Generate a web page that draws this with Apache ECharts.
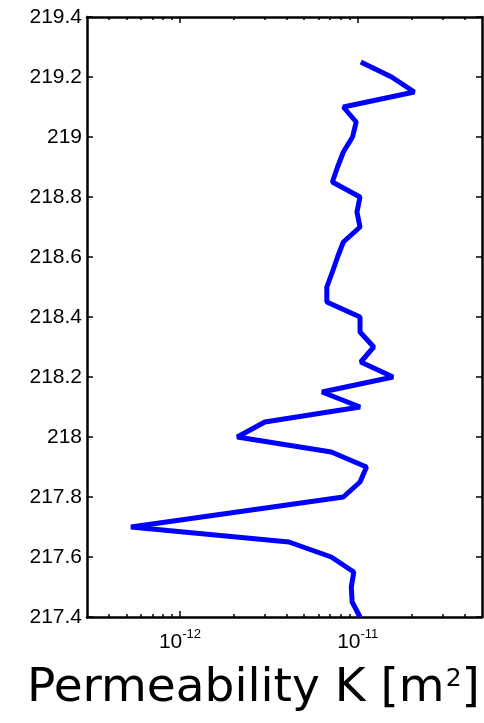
<!DOCTYPE html>
<html>
<head>
<meta charset="utf-8">
<script src="https://cdn.jsdelivr.net/npm/echarts@6/dist/echarts.min.js"></script>
<style>
  html, body { margin: 0; padding: 0; background: #fff; }
  #chart { width: 484px; height: 723px; }
</style>
</head>
<body>
<div id="chart"></div>
<script>
// Depth (y) and permeability K (x, m^2)
const depth = [219.25, 219.2, 219.15, 219.1, 219.05, 219.0, 218.95, 218.9, 218.85, 218.8,
  218.75, 218.7, 218.65, 218.6, 218.55, 218.5, 218.45, 218.4, 218.35, 218.3,
  218.25, 218.2, 218.15, 218.1, 218.05, 218.0, 217.95, 217.9, 217.85, 217.8,
  217.7, 217.65, 217.6, 217.55, 217.5, 217.45, 217.4];
const permeability = [1.04e-11, 1.55e-11, 2.08e-11, 8.3e-12, 9.8e-12, 9.35e-12, 8.3e-12, 7.7e-12, 7.2e-12, 1.03e-11,
  9.9e-12, 1.03e-11, 8.3e-12, 7.7e-12, 7.2e-12, 6.7e-12, 6.7e-12, 1.03e-11, 1.03e-11, 1.23e-11,
  1.04e-11, 1.58e-11, 6.3e-12, 1.03e-11, 3.0e-12, 2.1e-12, 7.1e-12, 1.12e-11, 1.03e-11, 8.3e-12,
  5.3e-13, 4.1e-12, 7.1e-12, 9.5e-12, 9.2e-12, 9.3e-12, 1.03e-11];

const xMajorTicks = [1e-12, 1e-11];
const xMinorTicks = [4e-13, 5e-13, 6e-13, 7e-13, 8e-13, 9e-13,
  2e-12, 3e-12, 4e-12, 5e-12, 6e-12, 7e-12, 8e-12, 9e-12,
  2e-11, 3e-11, 4e-11];
const xMin = 3e-13, xMax = 5e-11;
const yMin = 217.4, yMax = 219.4, yStep = 0.2;
const xTitle = 'Permeability K [m';
const xTitleSup = '2';

const chart = echarts.init(document.getElementById('chart'), null, { renderer: 'canvas' });

const axisLineStyle = { show: true, lineStyle: { color: '#000', width: 2.5 } };

function xAxisDef(pos, ticks, len, showLine, showLabel) {
  return {
    type: 'log', logBase: 10, position: pos, min: xMin, max: xMax,
    axisLine: showLine ? axisLineStyle : { show: false },
    axisTick: { show: true, inside: true, length: len, customValues: ticks,
      lineStyle: { color: '#000', width: 1.5 } },
    axisLabel: showLabel ? {
      show: true, customValues: ticks, margin: 11,
      fontFamily: 'Liberation Sans', fontSize: 21, color: '#000', lineHeight: 25,
      formatter: function (v) {
        const e = Math.round(Math.log10(v));
        return '{b|10}{s|' + e + '}';
      },
      rich: {
        b: { fontFamily: 'Liberation Sans', fontSize: 21, color: '#000', lineHeight: 25, verticalAlign: 'bottom' },
        s: { fontFamily: 'Liberation Sans', fontSize: 13, color: '#000', lineHeight: 25, verticalAlign: 'top' }
      }
    } : { show: false },
    splitLine: { show: false },
    minorTick: { show: false }
  };
}

function yAxisDef(pos, showLabel) {
  return {
    type: 'value', position: pos, min: yMin, max: yMax, interval: yStep,
    axisLine: axisLineStyle,
    axisTick: { show: true, inside: true, length: 6, lineStyle: { color: '#000', width: 1.5 } },
    axisLabel: showLabel ? {
      show: true, margin: 5, color: '#000', fontFamily: 'Liberation Sans', fontSize: 21,
      formatter: function (v) { return String(+v.toFixed(1)); }
    } : { show: false },
    splitLine: { show: false }
  };
}

chart.setOption({
  animation: false,
  backgroundColor: '#fff',
  title: {
    text: '{t|' + xTitle + '}{s|' + xTitleSup + '}{t|]}',
    left: 27, top: 660, padding: 0,
    textStyle: {
      fontWeight: 'normal', fontFamily: 'DejaVu Sans', fontSize: 47,
      rich: {
        t: { fontFamily: 'DejaVu Sans', fontWeight: 'normal', fontSize: 47, color: '#000', lineHeight: 52, verticalAlign: 'bottom' },
        s: { fontFamily: 'DejaVu Sans', fontWeight: 'normal', fontSize: 25, color: '#000', lineHeight: 52, verticalAlign: 'top', padding: [7, 0, 0, 1] }
      }
    }
  },
  grid: { left: 87, right: 2, top: 17, bottom: 106, outerBoundsMode: 'none', containLabel: false },
  xAxis: [
    xAxisDef('bottom', xMajorTicks, 6, true, true),
    xAxisDef('bottom', xMinorTicks, 3, false, false),
    xAxisDef('top', xMajorTicks, 6, true, false),
    xAxisDef('top', xMinorTicks, 3, false, false)
  ],
  yAxis: [yAxisDef('left', true), yAxisDef('right', false)],
  series: [{
    type: 'line',
    xAxisIndex: 0, yAxisIndex: 0,
    data: depth.map((d, i) => [permeability[i], d]),
    showSymbol: false, symbol: 'none',
    lineStyle: { color: '#0000ff', width: 5, join: 'bevel' },
    clip: true
  }]
});
</script>
</body>
</html>
